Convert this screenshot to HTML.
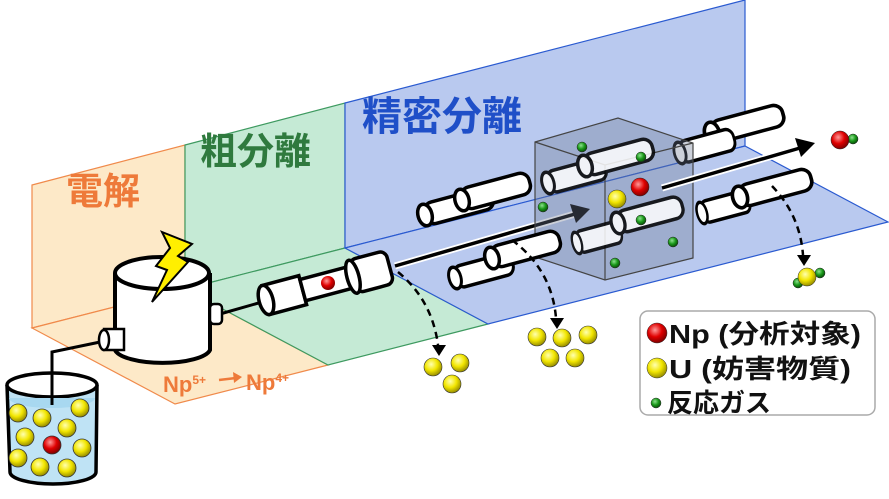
<!DOCTYPE html>
<html><head><meta charset="utf-8"><style>
html,body{margin:0;padding:0;background:#fff;}
svg{display:block;}
text{font-family:"Liberation Sans","Noto Sans CJK JP",sans-serif;font-weight:bold;}
</style></head><body>
<svg width="889" height="499" viewBox="0 0 889 499" xmlns="http://www.w3.org/2000/svg">
<defs>
<radialGradient id="y" cx="0.4" cy="0.35" r="0.7"><stop offset="0" stop-color="#ffffb0"/><stop offset="0.5" stop-color="#f2e600"/><stop offset="1" stop-color="#8a8000"/></radialGradient>
<radialGradient id="r" cx="0.4" cy="0.35" r="0.7"><stop offset="0" stop-color="#ff9a9a"/><stop offset="0.5" stop-color="#e00000"/><stop offset="1" stop-color="#700000"/></radialGradient>
<radialGradient id="g" cx="0.4" cy="0.35" r="0.7"><stop offset="0" stop-color="#8fe08f"/><stop offset="0.5" stop-color="#1a9a1a"/><stop offset="1" stop-color="#064006"/></radialGradient>
<g id="rod"><rect x="0" y="-11" width="70" height="22" rx="9" fill="#fff" stroke="#000" stroke-width="3.5"/><ellipse cx="0" cy="0" rx="7" ry="11" fill="#fff" stroke="#000" stroke-width="3.5"/></g>
</defs>
<polygon points="32,185 185,145 185,289 32,328" fill="#fde9c8" stroke="#f08a4b" stroke-width="1.2"/>
<polygon points="185,145 345,103 345,248 185,289" fill="#c5ead5" stroke="#3e9a60" stroke-width="1.2"/>
<polygon points="345,103 745,0 745,146 345,248" fill="#b9c9ef" stroke="#2a5ad0" stroke-width="1.2"/>
<polygon points="32,328 185,289 328,365 175,404" fill="#fde9c8" stroke="#f08a4b" stroke-width="1.2"/>
<polygon points="185,289 345,248 488,324 328,365" fill="#c5ead5" stroke="#3e9a60" stroke-width="1.2"/>
<polygon points="345,248 745,146 888,222 488,324" fill="#b9c9ef" stroke="#2a5ad0" stroke-width="1.2"/>
<text x="66" y="204" font-size="37" fill="#ee7a3a">電解</text>
<text x="200" y="164" font-size="37" fill="#2f7a3e">粗分離</text>
<text x="362" y="130" font-size="40" fill="#1f4fc8">精密分離</text>
<text x="163" y="392" font-size="22" fill="#ee7a3a">Np<tspan font-size="12" dy="-8">5+</tspan></text>
<line x1="219" y1="380" x2="236" y2="378" stroke="#ee7a3a" stroke-width="2.5"/>
<polygon points="242,377 233,372 234,383" fill="#ee7a3a"/>
<text x="246" y="390" font-size="22" fill="#ee7a3a">Np<tspan font-size="12" dy="-8">4+</tspan></text>
<polyline points="52,420 52,352 105,341" fill="none" stroke="#000" stroke-width="3"/>
<line x1="220" y1="314" x2="262" y2="302" stroke="#000" stroke-width="3"/>
<path d="M7,385 L10,472 A43,12 0 0 0 96,472 L97,385" fill="#bfe3f5" stroke="#000" stroke-width="3.5"/>
<ellipse cx="52" cy="385" rx="45" ry="12" fill="#fff" stroke="#000" stroke-width="3.5"/>
<path d="M9,398 A43,10 0 0 0 95,398" fill="#a8d8f0" stroke="none"/>
<line x1="52" y1="370" x2="52" y2="405" stroke="#000" stroke-width="3"/>
<g stroke="#333" stroke-width="0.8">
<circle cx="18" cy="413" r="9" fill="url(#y)"/><circle cx="42" cy="418" r="9" fill="url(#y)"/><circle cx="80" cy="408" r="9" fill="url(#y)"/>
<circle cx="25" cy="437" r="9" fill="url(#y)"/><circle cx="67" cy="428" r="9" fill="url(#y)"/><circle cx="52" cy="445" r="9" fill="url(#r)"/>
<circle cx="82" cy="448" r="9" fill="url(#y)"/><circle cx="18" cy="458" r="9" fill="url(#y)"/><circle cx="40" cy="467" r="9" fill="url(#y)"/><circle cx="67" cy="468" r="9" fill="url(#y)"/>
</g>
<path d="M115,273 L115,350 A48,15 0 0 0 210,350 L210,273" fill="#fff" stroke="#000" stroke-width="4"/>
<ellipse cx="162" cy="273" rx="47" ry="16" fill="#fff" stroke="#000" stroke-width="4"/>
<rect x="104" y="329" width="20" height="21" fill="#fff" stroke="#000" stroke-width="2.5"/>
<ellipse cx="104" cy="340" rx="5" ry="10" fill="#fff" stroke="#000" stroke-width="2.5"/>
<rect x="210" y="304" width="12" height="20" rx="4" fill="#fff" stroke="#000" stroke-width="2.5"/>
<polygon points="162,232 192,244 178,256 188,262 152,302 167,270 156,266 170,248" fill="#ffef00" stroke="#000" stroke-width="2"/>
<g transform="translate(266,300) rotate(-15)">
<rect x="0" y="-15" width="38" height="30" fill="#fff" stroke="#000" stroke-width="3.5"/>
<rect x="38" y="-11" width="52" height="22" fill="#fff" stroke="#000" stroke-width="3.5"/>
<ellipse cx="0" cy="0" rx="7" ry="15" fill="#fff" stroke="#000" stroke-width="3.5"/>
<rect x="90" y="-17" width="38" height="34" rx="7" fill="#fff" stroke="#000" stroke-width="3.5"/>
<ellipse cx="90" cy="0" rx="6" ry="17" fill="#fff" stroke="#000" stroke-width="3.5"/>
</g>
<circle cx="328" cy="283" r="7" fill="url(#r)"/>
<use href="#rod" transform="translate(425,215) rotate(-15)"/>
<use href="#rod" transform="translate(462,200) rotate(-15)"/>
<use href="#rod" transform="translate(712,133) rotate(-15) scale(1.05,1)"/>
<use href="#rod" transform="translate(680,153) rotate(-15) scale(0.8,1)"/>
<line x1="395" y1="266" x2="575" y2="214" stroke="#fff" stroke-width="7"/>
<line x1="395" y1="266" x2="575" y2="214" stroke="#000" stroke-width="3.5"/>
<polygon points="590,209 570,204 576,223" fill="#000"/>
<polygon points="535,142 618,118 693,143 693,258 605,280 535,257" fill="rgba(110,120,145,0.35)" stroke="#444" stroke-width="1.2"/>
<polyline points="535,142 605,165 693,143" fill="none" stroke="#444" stroke-width="1.2"/>
<line x1="605" y1="165" x2="605" y2="280" stroke="#444" stroke-width="1.2"/>
<g opacity="0.85">
<use href="#rod" transform="translate(548,183) rotate(-15) scale(0.85,1)"/>
<use href="#rod" transform="translate(585,166) rotate(-15)"/>
<use href="#rod" transform="translate(577,243) rotate(-15) scale(0.65,1)"/>
<use href="#rod" transform="translate(618,223) rotate(-15) scale(0.95,1)"/>
</g>
<line x1="662" y1="188" x2="800" y2="148" stroke="#fff" stroke-width="7"/>
<line x1="662" y1="188" x2="800" y2="148" stroke="#000" stroke-width="3.5"/>
<polygon points="815,143 795,138 801,157" fill="#000"/>
<use href="#rod" transform="translate(455,278) rotate(-15) scale(0.85,1)"/>
<use href="#rod" transform="translate(492,258) rotate(-15)"/>
<use href="#rod" transform="translate(702,213) rotate(-15) scale(0.7,1)"/>
<use href="#rod" transform="translate(740,197) rotate(-15) scale(1.05,1)"/>
<g stroke="#222" stroke-width="0.5">
<circle cx="582" cy="147" r="5" fill="url(#g)"/><circle cx="641" cy="157" r="5" fill="url(#g)"/><circle cx="543" cy="207" r="5" fill="url(#g)"/>
<circle cx="641" cy="220" r="5" fill="url(#g)"/><circle cx="673" cy="242" r="5" fill="url(#g)"/><circle cx="615" cy="263" r="5" fill="url(#g)"/>
<circle cx="640" cy="187" r="9" fill="url(#r)"/><circle cx="617" cy="199" r="9" fill="url(#y)"/>
<circle cx="853" cy="139" r="5" fill="url(#g)"/><circle cx="840" cy="140" r="9" fill="url(#r)"/>
<circle cx="798" cy="283" r="5" fill="url(#g)"/><circle cx="820" cy="273" r="5" fill="url(#g)"/><circle cx="807" cy="277" r="9" fill="url(#y)"/>
</g>
<g fill="none" stroke="#000" stroke-width="2.5" stroke-dasharray="7,5">
<path d="M398,272 Q432,300 438,345"/>
<path d="M512,240 Q552,270 556,318"/>
<path d="M772,186 Q800,215 803,255"/>
</g>
<polygon points="432,345 446,345 439,356" fill="#000"/>
<polygon points="550,318 564,318 557,329" fill="#000"/>
<polygon points="797,255 811,255 804,266" fill="#000"/>
<g stroke="#333" stroke-width="0.6">
<circle cx="433" cy="367" r="9" fill="url(#y)"/><circle cx="460" cy="363" r="9" fill="url(#y)"/><circle cx="452" cy="384" r="9" fill="url(#y)"/>
<circle cx="537" cy="337" r="9" fill="url(#y)"/><circle cx="562" cy="338" r="9" fill="url(#y)"/><circle cx="588" cy="335" r="9" fill="url(#y)"/>
<circle cx="550" cy="358" r="9" fill="url(#y)"/><circle cx="575" cy="358" r="9" fill="url(#y)"/>
</g>
<rect x="640" y="311" width="235" height="104" rx="8" fill="#fff" stroke="#aaa" stroke-width="1.5"/>
<circle cx="657" cy="333" r="10" fill="url(#r)" stroke="#333" stroke-width="0.5"/>
<text x="669" y="343" font-size="26" fill="#111" textLength="192" lengthAdjust="spacingAndGlyphs">Np (分析対象)</text>
<circle cx="657" cy="368" r="10" fill="url(#y)" stroke="#333" stroke-width="0.5"/>
<text x="669" y="378" font-size="26" fill="#111" textLength="182" lengthAdjust="spacingAndGlyphs">U (妨害物質)</text>
<circle cx="656" cy="403" r="5" fill="url(#g)" stroke="#333" stroke-width="0.5"/>
<text x="667" y="412" font-size="26" fill="#111">反応ガス</text>
</svg>
</body></html>
